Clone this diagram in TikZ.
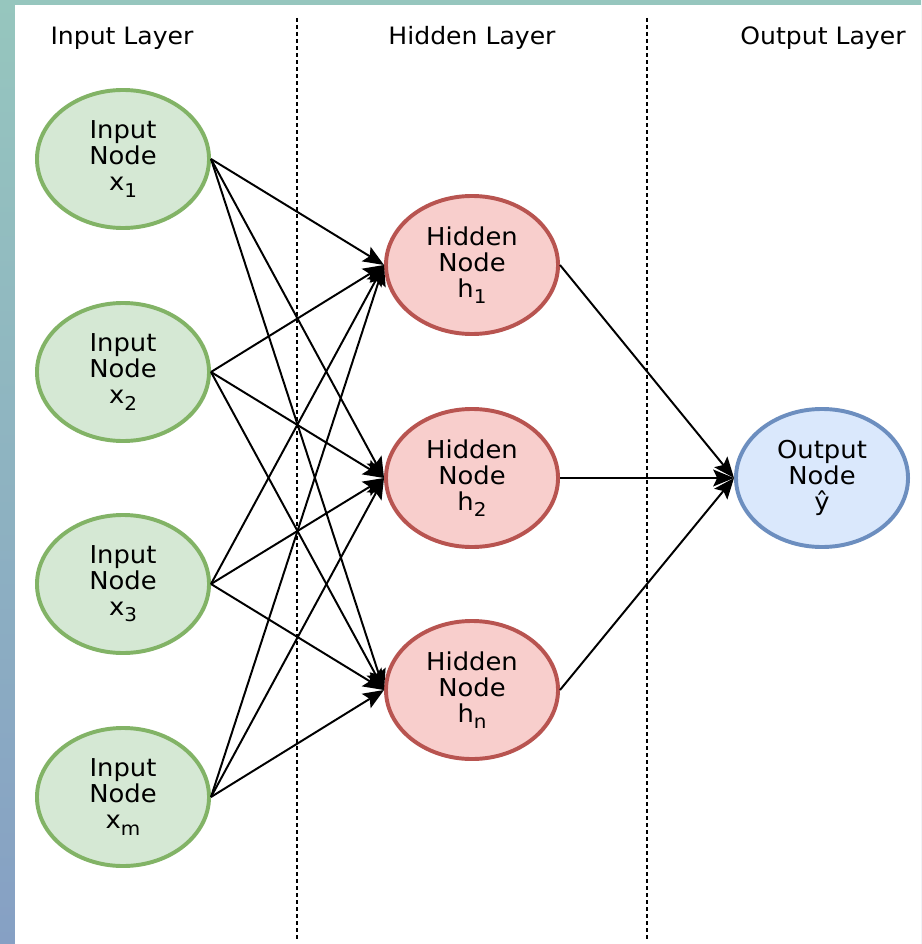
\documentclass[tikz,border=0pt]{standalone}
\usepackage{fontspec}
\setmainfont{DejaVu Sans}[FakeStretch=1.05]
\usepackage{tikz}
\usetikzlibrary{shapes.geometric,arrows.meta}

\definecolor{inFill}{HTML}{D5E8D4}
\definecolor{inDraw}{HTML}{82B366}
\definecolor{hidFill}{HTML}{F8CECC}
\definecolor{hidDraw}{HTML}{B85450}
\definecolor{outFill}{HTML}{DAE8FC}
\definecolor{outDraw}{HTML}{6C8EBF}
\definecolor{bgTop}{RGB}{150,198,190}
\definecolor{bgBottom}{RGB}{134,160,196}

% lowered index, as drawn in the figure
\newcommand{\lowidx}[1]{\raisebox{-0.45ex}{\fontsize{13.5}{13.5}\selectfont #1}}

\tikzset{
  neuron/.style={ellipse, minimum width=4.3cm, minimum height=3.45cm, inner sep=0pt,
    line width=2.8pt, align=center, font=\fontsize{17.5}{18.5}\selectfont},
  innode/.style={neuron, fill=inFill, draw=inDraw},
  hidnode/.style={neuron, fill=hidFill, draw=hidDraw},
  outnode/.style={neuron, fill=outFill, draw=outDraw},
  layertitle/.style={font=\fontsize{17}{18}\selectfont},
  wire/.style={line width=1.4pt, -{Stealth[length=0.52cm,width=0.42cm,inset=0.1cm]}},
  divider/.style={line width=2pt, dash pattern=on 0.1cm off 0.075cm}
}

\begin{document}
\begin{tikzpicture}[x=0.025cm, y=-0.025cm]

 \useasboundingbox (0,0) rectangle (921,944);
 \shade[top color=bgTop, bottom color=bgBottom] (0,0) rectangle (921,944);
 \fill[white] (15,5) rectangle (921,944);

 % layer titles
 \node[layertitle] (tin)  at (122, 38) {Input Layer};
 \node[layertitle] (thid) at (472, 38) {Hidden Layer};
 \node[layertitle] (tout) at (823, 38) {Output Layer};

 \draw[divider] (297,18) -- (297,940);
 \draw[divider] (647,18) -- (647,940);

 % input layer
 \node[innode] (x1) at (123,159) {Input\\Node\\x\lowidx{1}};
 \node[innode] (x2) at (123,372) {Input\\Node\\x\lowidx{2}};
 \node[innode] (x3) at (123,584) {Input\\Node\\x\lowidx{3}};
 \node[innode] (xm) at (123,797) {Input\\Node\\x\lowidx{m}};

 % hidden layer
 \node[hidnode] (h1) at (472,265) {Hidden\\Node\\h\lowidx{1}};
 \node[hidnode] (h2) at (472,478) {Hidden\\Node\\h\lowidx{2}};
 \node[hidnode] (hn) at (472,690) {Hidden\\Node\\h\lowidx{n}};

 % output layer
 \node[outnode] (y) at (822,478) {Output\\Node\\ŷ};

 \draw[wire] (x1.east) -- (h1.west);
 \draw[wire] (x1.east) -- (h2.west);
 \draw[wire] (x1.east) -- (hn.west);

 \draw[wire] (x2.east) -- (h1.west);
 \draw[wire] (x2.east) -- (h2.west);
 \draw[wire] (x2.east) -- (hn.west);

 \draw[wire] (x3.east) -- (h1.west);
 \draw[wire] (x3.east) -- (h2.west);
 \draw[wire] (x3.east) -- (hn.west);

 \draw[wire] (xm.east) -- (h1.west);
 \draw[wire] (xm.east) -- (h2.west);
 \draw[wire] (xm.east) -- (hn.west);

 \draw[wire] (h1.east) -- (y.west);
 \draw[wire] (h2.east) -- (y.west);
 \draw[wire] (hn.east) -- (y.west);

\end{tikzpicture}
\end{document}
